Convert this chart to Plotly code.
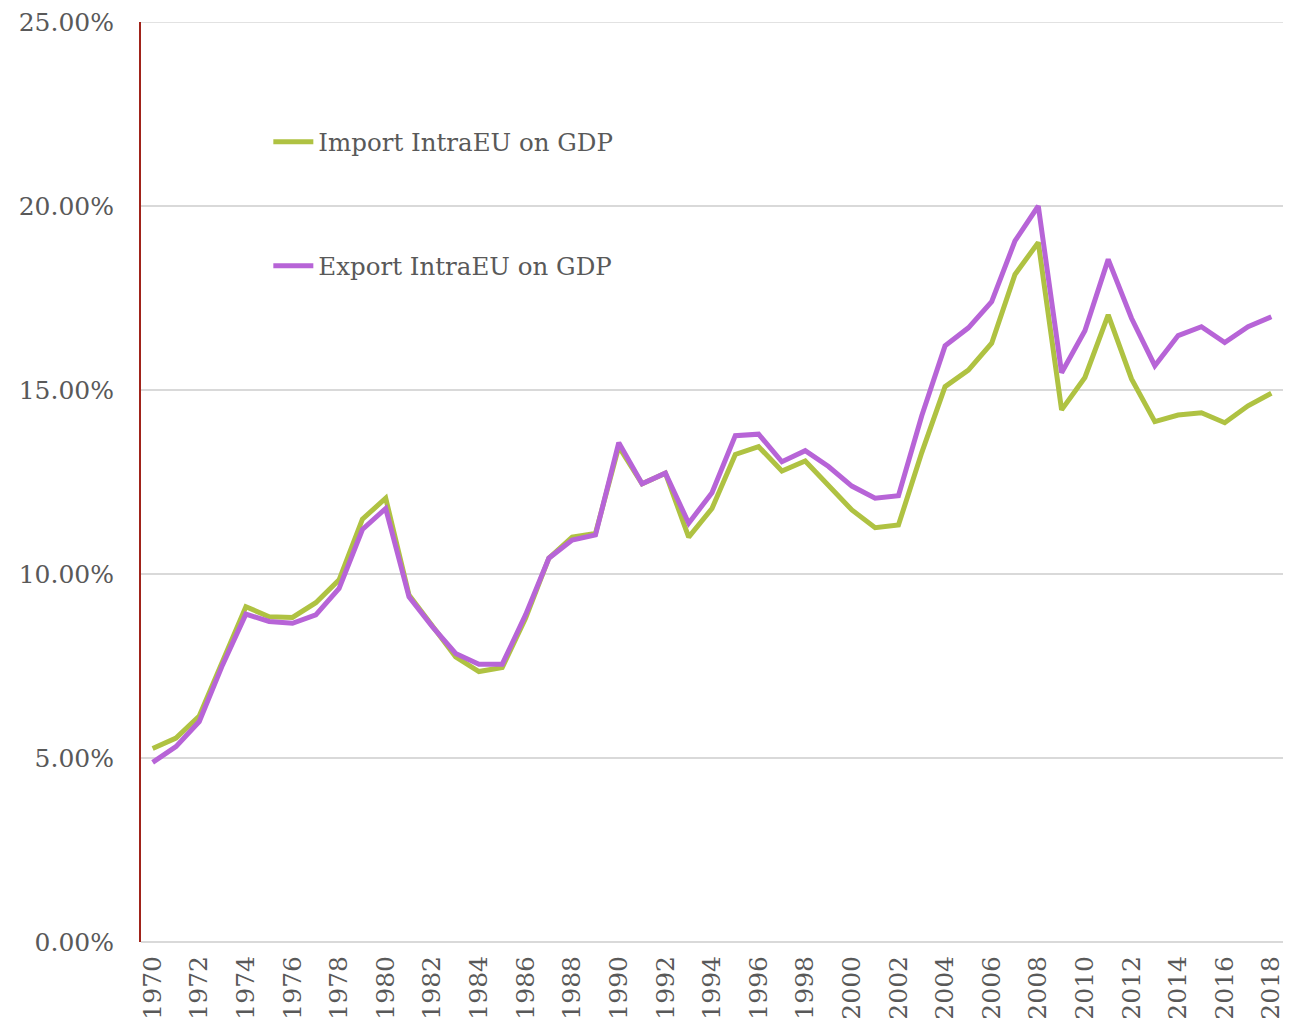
import plotly.graph_objects as go

years = list(range(1970, 2019))

import_intra_eu = [
    5.26, 5.54, 6.14, 7.66, 9.11, 8.84, 8.82, 9.22, 9.84, 11.49,
    12.06, 9.43, 8.57, 7.75, 7.35, 7.46, 8.80, 10.43, 11.00, 11.10,
    13.46, 12.45, 12.74, 11.00, 11.78, 13.25, 13.46, 12.80, 13.07, 12.42,
    11.74, 11.26, 11.33, 13.30, 15.09, 15.54, 16.27, 18.14, 19.01, 14.46,
    15.34, 17.04, 15.30, 14.14, 14.32, 14.38, 14.11, 14.57, 14.91,
]

export_intra_eu = [
    4.88, 5.31, 5.99, 7.53, 8.91, 8.71, 8.66, 8.89, 9.61, 11.21,
    11.78, 9.38, 8.57, 7.84, 7.55, 7.55, 8.89, 10.43, 10.92, 11.06,
    13.57, 12.45, 12.74, 11.38, 12.21, 13.76, 13.80, 13.05, 13.35, 12.92,
    12.39, 12.06, 12.13, 14.30, 16.20, 16.69, 17.40, 19.05, 20.00, 15.47,
    16.61, 18.55, 16.95, 15.66, 16.48, 16.72, 16.29, 16.72, 16.99,
]

x_tick_labels = [str(y) for y in range(1970, 2019, 2)]
y_tick_values = [0, 0.05, 0.10, 0.15, 0.20, 0.25]

FONT = "DejaVu Serif"
TXT = "#595959"
GRID = "#d9d9d9"

fig = go.Figure()
fig.add_trace(go.Scatter(
    x=years, y=[v / 100 for v in import_intra_eu], mode="lines",
    name="Import IntraEU on GDP",
    line=dict(color="#afc242", width=5),
    legend="legend", showlegend=True,
))
fig.add_trace(go.Scatter(
    x=years, y=[v / 100 for v in export_intra_eu], mode="lines",
    name="Export IntraEU on GDP",
    line=dict(color="#b764d7", width=5),
    legend="legend2", showlegend=True,
))

legend_common = dict(
    font=dict(family=FONT, size=24.5, color=TXT),
    bgcolor="rgba(0,0,0,0)",
    xanchor="left", yanchor="middle",
    itemwidth=40,
    visible=True,
)

# top gridline (plotly omits a gridline sitting exactly on the plot edge)
fig.add_shape(type="line", xref="paper", yref="y",
              x0=0, x1=1, y0=y_tick_values[-1], y1=y_tick_values[-1],
              line=dict(color=GRID, width=1.5), layer="below")

fig.update_layout(
    width=1298, height=1028,
    margin=dict(l=133, r=23, t=14, b=94),
    paper_bgcolor="white", plot_bgcolor="white",
    font=dict(family=FONT, color=TXT),
    showlegend=True,
    legend=dict(x=0.1115, y=0.8697, **legend_common),
    legend2=dict(x=0.1115, y=0.735, **legend_common),
    xaxis=dict(
        range=[1969.5, 2018.5],
        tickmode="array",
        tickvals=list(range(1970, 2019, 2)),
        ticktext=x_tick_labels,
        tickangle=-90,
        tickfont=dict(family=FONT, size=25, color=TXT),
        showgrid=False,
        showline=False,
        zeroline=False,
        ticks="",
        ticklabelstandoff=8,
        ticklabeloverflow="allow",
        automargin=False,
    ),
    yaxis=dict(
        range=[0, 0.25],
        tickvals=y_tick_values,
        tickformat=".2%",
        tickfont=dict(family=FONT, size=25, color=TXT),
        showgrid=True, gridcolor=GRID, gridwidth=1.5,
        zeroline=True, zerolinecolor=GRID, zerolinewidth=1.5,
        showline=True, linecolor="#a0231a", linewidth=2,
        ticks="",
        ticklabelstandoff=20,
        ticklabeloverflow="allow",
        automargin=False,
    ),
)

fig.write_html("out.html")
